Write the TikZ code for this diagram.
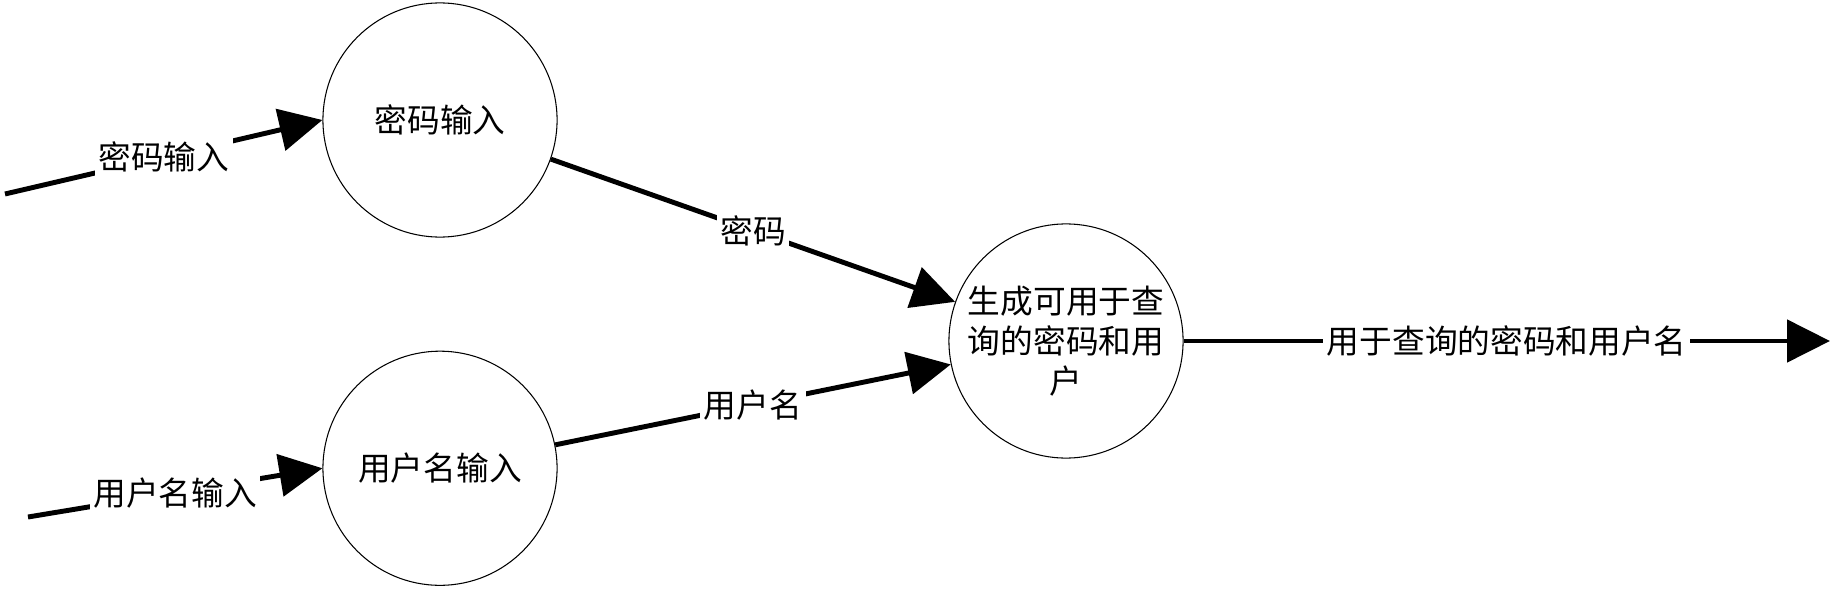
\documentclass[tikz,border=0pt]{standalone}
\usepackage{fontspec}
\setmainfont{Noto Sans CJK SC}
\usetikzlibrary{arrows.meta,positioning}

\begin{document}
\begin{tikzpicture}[
          x = 0.01cm, y = -0.01cm, % one unit per pixel, y going down
          > = {Triangle[length=4.3mm, width=4.2mm]}, % arrow head style
          node distance = 1.13cm, % distance between nodes
          line width = 1.4pt, % line style
          font = \fontsize{9.3pt}{11.4pt}\selectfont
          ]

          \tikzset{process/.style={
          circle,
          draw = black,
          line width = 0.3pt,
          fill = white,
          minimum size = 2.34cm,
          inner sep = 0pt,
          align = center
          }}
          \tikzset{flow/.style={fill = white, inner sep = 1pt}}

          \useasboundingbox (0,0) rectangle (1834,588);

          \node[process] (pwd) at (440,120) {密码输入};
          \node[process] (user) [below=of pwd] {用户名输入};
          \node[process] (gen) at (1066,341) {生成可用于查\\询的密码和用\\户};

          \coordinate (pwdin) at (5,194);
          \coordinate (userin) at (28,517);
          \coordinate (out) at (1830,341);

          \path (pwdin) edge[->] node[flow] {密码输入} (pwd.west);
          \path (userin) edge[->] node[flow] {用户名输入} (user.west);
          \path (pwd) edge[->] node[flow] {密码} (gen);
          \path (user) edge[->] node[flow] {用户名} (gen);
          \path (gen.east) edge[->] node[flow] {用于查询的密码和用户名} (out);

        \end{tikzpicture}
\end{document}
